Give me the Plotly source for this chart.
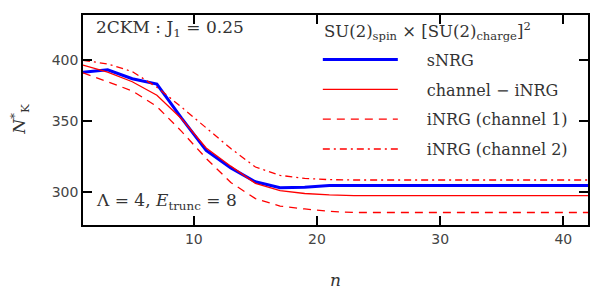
import numpy as np
import plotly.graph_objects as go

# ---- data ----
n_vals = [1, 3, 5, 7, 9, 11, 13, 15, 17, 19, 21, 23, 25, 27, 29, 31, 33, 35, 37, 39, 41, 43]

snrg = [389.5, 391.5, 384.0, 379.6, 352.5, 328.6, 316.4, 307.0, 303.0, 303.3, 304.6, 304.6,
        304.6, 304.6, 304.6, 304.6, 304.6, 304.6, 304.6, 304.6, 304.6, 304.6]
channel_inrg = [395.5, 389.5, 381.5, 370.5, 352.0, 330.4, 317.6, 306.0, 301.2, 299.3, 298.4, 297.9,
                297.9, 297.9, 297.9, 297.9, 297.9, 297.9, 297.9, 297.9, 297.9, 297.9]
inrg_ch1 = [389.0, 381.5, 374.0, 361.5, 342.5, 323.0, 306.5, 296.0, 291.2, 289.4, 287.9, 287.2,
            287.2, 287.2, 287.2, 287.2, 287.2, 287.2, 287.2, 287.2, 287.2, 287.2]
inrg_ch2 = [399.7, 396.5, 390.0, 377.0, 361.0, 345.0, 330.0, 317.0, 311.3, 309.3, 308.4, 308.2,
            308.2, 308.2, 308.2, 308.2, 308.2, 308.2, 308.2, 308.2, 308.2, 308.2]

x_ticks = [10, 20, 30, 40]
y_ticks = [300, 350, 400]
x_range = [1, 42]
y_range = [279.5, 441.0]

series_names = ["sNRG", "channel − iNRG", "iNRG (channel 1)", "iNRG (channel 2)"]

SERIF = "DejaVu Serif"
SANS = "DejaVu Sans"
TXT = "#333333"
PAD = "\u2003\u2002"  # visual gap between legend sample and label

fig = go.Figure()
styles = [
    dict(color="#0000ff", width=3, dash="solid"),
    dict(color="#ff0000", width=1.3, dash="solid"),
    dict(color="#ff0000", width=1.3, dash="8px,6px"),
    dict(color="#ff0000", width=1.3, dash="7px,4px,2px,4px"),
]
for name, ys, st, g in zip(series_names, [snrg, channel_inrg, inrg_ch1, inrg_ch2], styles, "abcd"):
    fig.add_trace(go.Scatter(x=n_vals, y=ys, mode="lines", name=PAD + name, line=st,
                             legendgroup=g))

axis_common = dict(showline=True, linecolor="black", linewidth=1.5, mirror="ticks",
                   ticks="inside", ticklen=9, tickwidth=1.5, tickcolor="black",
                   showgrid=False, zeroline=False,
                   tickfont=dict(family=SANS, size=14, color="#444444"))

fig.update_layout(
    width=590, height=290,
    margin=dict(l=75, r=10, t=5, b=73),
    paper_bgcolor="white", plot_bgcolor="white",
    xaxis=dict(range=x_range, tickvals=x_ticks,
               title=dict(text="<i>n</i>", font=dict(family=SERIF, size=17, color=TXT), standoff=29),
               **axis_common),
    yaxis=dict(type="log", range=[np.log10(y_range[0]), np.log10(y_range[1])], tickvals=y_ticks,
               ticktext=[str(v) for v in y_ticks],
               **axis_common),
    legend=dict(x=0.465, y=0.868, xanchor="left", yanchor="top",
                bgcolor="rgba(255,255,255,0)", borderwidth=0,
                font=dict(family=SERIF, size=16, color=TXT),
                tracegroupgap=6, itemwidth=75),
    showlegend=True,
    annotations=[
        dict(text="<i>N</i><sup>*</sup><sub>K</sub>", xref="paper", yref="paper", x=-0.125, y=0.505,
             xanchor="center", yanchor="middle", textangle=-90, showarrow=False,
             font=dict(family=SERIF, size=17, color=TXT)),
        dict(text="2CKM : J<sub>1</sub> = 0.25", xref="paper", yref="paper", x=0.022, y=0.934,
             xanchor="left", yanchor="middle", showarrow=False,
             font=dict(family=SERIF, size=17, color=TXT)),
        dict(text="Λ = 4, <i>E</i><sub>trunc</sub> = 8", xref="paper", yref="paper", x=0.022, y=0.11,
             xanchor="left", yanchor="middle", showarrow=False,
             font=dict(family=SERIF, size=17, color=TXT)),
        dict(text="SU(2)<sub>spin</sub> × [SU(2)<sub>charge</sub>]<sup>2</sup>", xref="paper", yref="paper",
             x=0.473, y=0.925, xanchor="left", yanchor="middle", showarrow=False,
             font=dict(family=SERIF, size=16.5, color=TXT)),
    ],
)

fig.write_html("out.html")
